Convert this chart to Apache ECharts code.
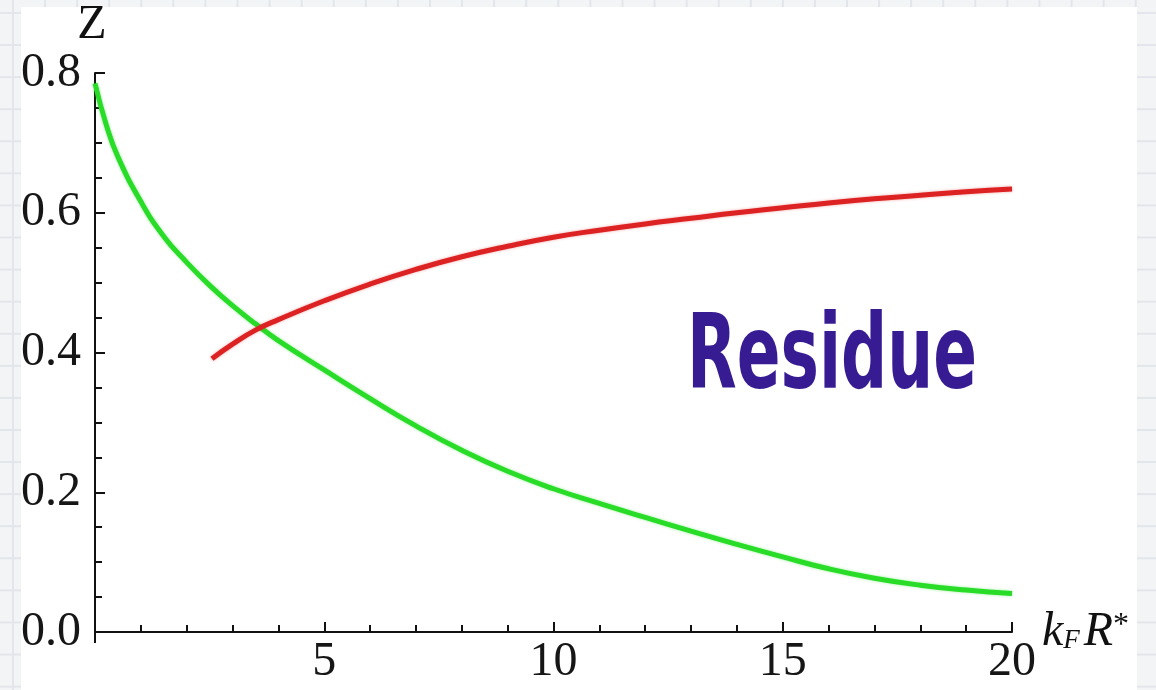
<!DOCTYPE html>
<html><head><meta charset="utf-8">
<script src="https://cdn.jsdelivr.net/npm/echarts@6/dist/echarts.min.js"></script>
<style>
html,body{margin:0;padding:0;width:1156px;height:690px;overflow:hidden;}
body{background-color:#f3f4f6;background-image:linear-gradient(#e2e5e9 2px,transparent 2px),linear-gradient(90deg,#e2e5e9 2px,transparent 2px);background-size:32.08px 32.08px;background-position:12px 12px;}
#panel{position:absolute;left:21px;top:7px;width:1116px;height:683px;background:#fff;}
#chart{position:absolute;left:0;top:0;width:1156px;height:690px;}
</style></head><body><div id="panel"></div><div id="chart"></div>
<script>
// Green curve (decreasing)
const greenX = [0, 0.25, 0.5, 1, 1.5, 2, 2.5, 3, 3.5, 4, 5, 6, 7, 8, 9, 10, 11, 12, 13, 14, 15, 16, 17, 18, 19, 20];
const greenY = [0.785, 0.725, 0.680, 0.616, 0.566, 0.529, 0.496, 0.467, 0.441, 0.417, 0.375, 0.334, 0.295, 0.260, 0.230, 0.205, 0.184, 0.164, 0.1445, 0.1255, 0.1075, 0.0905, 0.077, 0.067, 0.060, 0.055];
// Red curve (increasing)
const redX = [2.55, 3, 3.5, 4, 5, 6, 7, 8, 9, 10, 11, 12, 13, 14, 15, 16, 17, 18, 19, 20];
const redY = [0.391, 0.412, 0.432, 0.447, 0.474, 0.498, 0.519, 0.537, 0.552, 0.565, 0.575, 0.584, 0.592, 0.600, 0.607, 0.614, 0.620, 0.625, 0.630, 0.634];
// Tick labels
const xTickLabels = ['', '5', '10', '15', '20'];
const yTickLabels = ['0.0', '0.2', '0.4', '0.6', '0.8'];
const annotation = 'Residue';

const serif = '"Liberation Serif", "DejaVu Serif", "Times New Roman", serif';
const chart = echarts.init(document.getElementById('chart'), null, {renderer: 'canvas'});

// measure annotation width for horizontal fit
const annFont = 'bold 104px "DejaVu Sans"';
const cv = document.createElement('canvas').getContext('2d');
cv.font = annFont;
const annW = cv.measureText(annotation).width;
const annScale = 290 / annW;

const option = {
  backgroundColor: 'transparent',
  animation: false,
  grid: {left: 95, right: 144, top: 73, bottom: 58, containLabel: false},
  xAxis: {
    type: 'value', min: 0, max: 20, interval: 5,
    name: '{k|k}{F|F}{sp| }{R|R}{s|*}',
    nameLocation: 'end', nameGap: 18,
    nameTextStyle: {
      rich: {
        k: {fontFamily: serif, fontStyle: 'italic', fontSize: 48, lineHeight: 44, color: '#111'},
        F: {fontFamily: serif, fontStyle: 'italic', fontSize: 27, lineHeight: 26, verticalAlign: 'bottom', color: '#111'},
        sp: {fontFamily: serif, fontSize: 16, lineHeight: 44},
        R: {fontFamily: serif, fontStyle: 'italic', fontSize: 48, lineHeight: 44, color: '#111'},
        s: {fontFamily: serif, fontSize: 32, lineHeight: 30, verticalAlign: 'top', color: '#111'}
      }
    },
    axisLine: {show: true, onZero: false, lineStyle: {color: '#111', width: 2}},
    axisTick: {show: true, inside: true, length: 10, lineStyle: {color: '#111', width: 2}},
    minorTick: {show: true, splitNumber: 5, length: 7, lineStyle: {color: '#111', width: 2}},
    splitLine: {show: false},
    axisLabel: {
      fontFamily: serif, fontSize: 48, color: '#161616', margin: 6,
      formatter: v => xTickLabels[Math.round(v / 5)] || ''
    }
  },
  yAxis: {
    type: 'value', min: 0, max: 0.8, interval: 0.2,
    name: 'Z', nameLocation: 'end', nameGap: 19,
    nameTextStyle: {fontFamily: serif, fontSize: 48, color: '#111', padding: [0, 6, 0, 0]},
    axisLine: {show: true, onZero: false, lineStyle: {color: '#111', width: 2}},
    axisTick: {show: true, inside: true, length: 10, lineStyle: {color: '#111', width: 2}},
    minorTick: {show: true, splitNumber: 4, length: 7, lineStyle: {color: '#111', width: 2}},
    splitLine: {show: false},
    axisLabel: {
      fontFamily: serif, fontSize: 48, color: '#161616', margin: 14,
      formatter: v => yTickLabels[Math.round(v / 0.2)] || ''
    }
  },
  series: [
    {
      type: 'line', name: 'green', smooth: 0.5, symbol: 'none',
      data: greenX.map((x, i) => [x, greenY[i]]),
      lineStyle: {color: '#28dc28', width: 5, shadowColor: 'rgba(40,220,40,0.45)', shadowBlur: 3},
      z: 2
    },
    {
      type: 'line', name: 'red', smooth: 0.5, symbol: 'none',
      data: redX.map((x, i) => [x, redY[i]]),
      lineStyle: {color: '#dc2222', width: 5, shadowColor: 'rgba(220,30,30,0.4)', shadowBlur: 3},
      z: 3
    }
  ]
};
chart.setOption(option);

// annotation text and the short extension of the y axis line below the origin
const o = chart.convertToPixel({gridIndex: 0}, [0, 0]);
chart.setOption({graphic: [
  {type: 'text', x: 832, y: 361, scaleX: annScale, scaleY: 1, z: 10,
   style: {text: annotation, font: annFont, fill: '#371b93', align: 'center', verticalAlign: 'middle'}},
  {type: 'line', z: 10, shape: {x1: o[0], y1: o[1], x2: o[0], y2: o[1] + 11}, style: {stroke: '#111', lineWidth: 2}}
]});
</script>
</body></html>
